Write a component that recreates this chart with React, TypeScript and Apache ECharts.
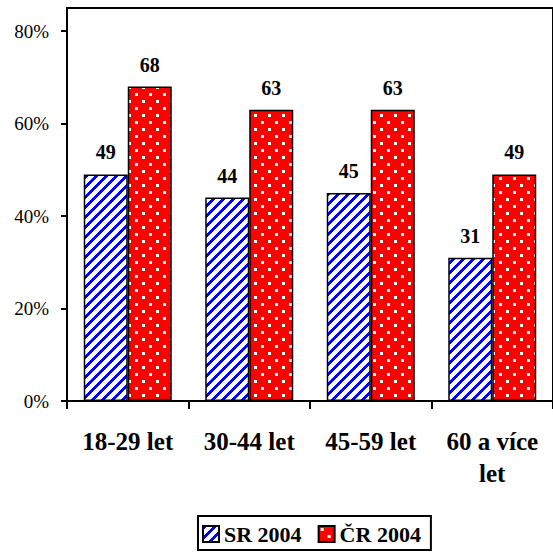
import React, { useEffect, useRef } from "react";
import * as echarts from "echarts";

const categories = ["18-29 let", "30-44 let", "45-59 let", "60 a více\nlet"];
const srValues = [49, 44, 45, 31];
const crValues = [68, 63, 63, 49];
const seriesNames = ["SR 2004", "ČR 2004"];
const yTicks = [0, 20, 40, 60, 80];

const FONT = "Liberation Serif";

function stripeCanvas() {
  const size = 10;
  const c = document.createElement("canvas");
  c.width = size;
  c.height = size;
  const ctx = c.getContext("2d")!;
  ctx.fillStyle = "#ffffff";
  ctx.fillRect(0, 0, size, size);
  ctx.fillStyle = "#0000ff";
  for (let x = 0; x < size; x++) {
    for (let y = 0; y < size; y++) {
      if ((x + y) % size < 4) ctx.fillRect(x, y, 1, 1);
    }
  }
  return c;
}

function dotCanvas() {
  const size = 14;
  const c = document.createElement("canvas");
  c.width = size;
  c.height = size;
  const ctx = c.getContext("2d")!;
  ctx.fillStyle = "#ff0000";
  ctx.fillRect(0, 0, size, size);
  ctx.fillStyle = "#ffffff";
  ctx.fillRect(2, 2, 3, 3);
  ctx.fillRect(9, 9, 3, 3);
  return c;
}

export default function App() {
  const ref = useRef<HTMLDivElement>(null);
  useEffect(() => {
    if (!ref.current) return;
    const chart = echarts.init(ref.current, null, { renderer: "svg" });
    const srPattern = { image: stripeCanvas(), repeat: "repeat", imageWidth: 10, imageHeight: 10 };
    const crPattern = { image: dotCanvas(), repeat: "repeat", imageWidth: 14, imageHeight: 14 };
    const labelStyle = {
      show: true,
      position: "top",
      distance: 12,
      fontFamily: FONT,
      fontWeight: "bold",
      fontSize: 20,
      color: "#000",
    };
    chart.setOption({
      animation: false,
      backgroundColor: "#ffffff",
      textStyle: { fontFamily: FONT },
      grid: {
        left: 67,
        top: 8,
        bottom: 156,
        right: -10,
        show: true,
        borderColor: "#000",
        borderWidth: 2,
        backgroundColor: "transparent",
      },
      legend: {
        data: seriesNames,
        left: 198,
        top: 516,
        orient: "horizontal",
        borderColor: "#000",
        borderWidth: 2,
        padding: [7, 10, 5, 4],
        itemWidth: 16,
        itemHeight: 16,
        itemGap: 16,
        icon: "rect",
        itemStyle: { borderColor: "#000", borderWidth: 2 },
        textStyle: { fontFamily: FONT, fontWeight: "bold", fontSize: 22, color: "#000" },
      },
      xAxis: {
        type: "category",
        data: categories,
        axisLine: { lineStyle: { color: "#000", width: 2 } },
        axisTick: { show: true, length: 8, lineStyle: { color: "#000", width: 2 } },
        axisLabel: {
          fontFamily: FONT,
          fontWeight: "bold",
          fontSize: 25,
          color: "#000",
          margin: 24,
          lineHeight: 32,
          interval: 0,
        },
      },
      yAxis: {
        type: "value",
        min: 0,
        max: 85,
        interval: 20,
        splitLine: { show: false },
        axisLine: { show: true, lineStyle: { color: "#000", width: 2 } },
        axisTick: { show: true, length: 6, customValues: yTicks, lineStyle: { color: "#000", width: 2 } },
        axisLabel: {
          customValues: yTicks,
          formatter: (v: number) => v + "%",
          fontFamily: FONT,
          fontSize: 19,
          color: "#000",
          margin: 18,
        },
      },
      series: [
        {
          name: seriesNames[0],
          type: "bar",
          data: srValues,
          barWidth: 44,
          barGap: "0%",
          itemStyle: { color: srPattern, borderColor: "#000", borderWidth: 1.5 },
          label: labelStyle,
        },
        {
          name: seriesNames[1],
          type: "bar",
          data: crValues,
          barWidth: 44,
          barGap: "0%",
          itemStyle: { color: crPattern, borderColor: "#000", borderWidth: 1.5 },
          label: labelStyle,
        },
      ],
    });
    return () => chart.dispose();
  }, []);
  return (
    <div
      ref={ref}
      style={{ position: "absolute", left: 0, top: 0, width: 553, height: 557 }}
    />
  );
}
